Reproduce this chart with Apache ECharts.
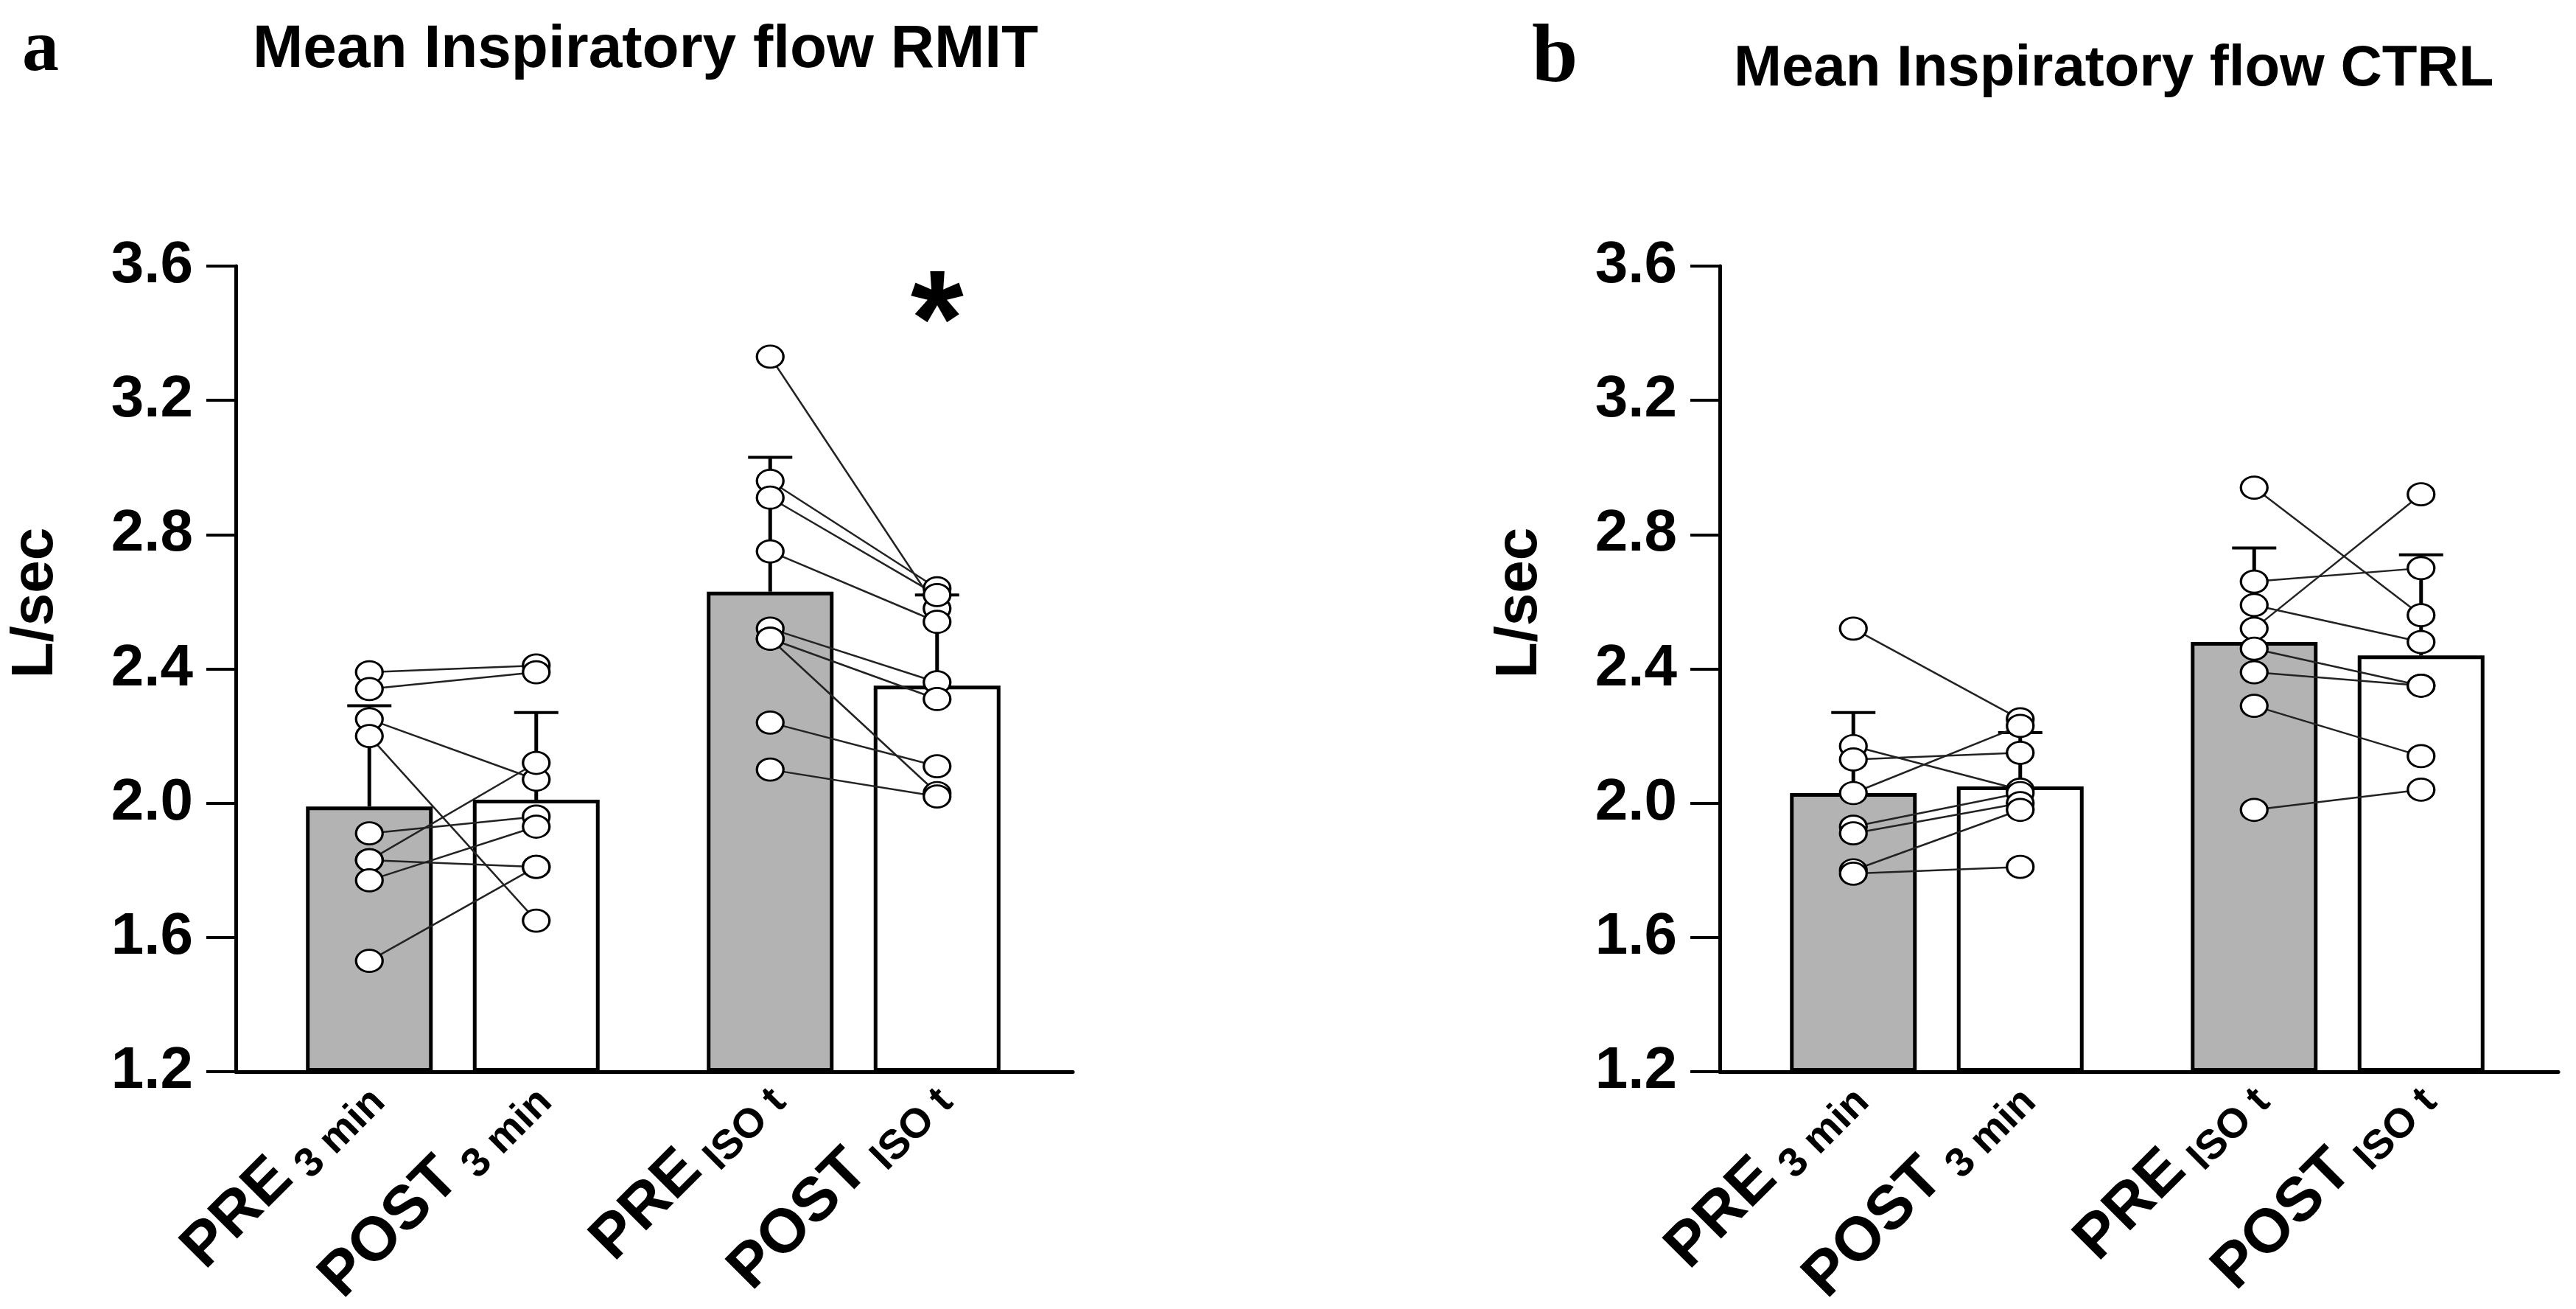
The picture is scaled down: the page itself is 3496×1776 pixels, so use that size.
<!DOCTYPE html>
<html>
<head>
<meta charset="utf-8">
<script src="https://cdn.jsdelivr.net/npm/echarts@6/dist/echarts.min.js"></script>
<style>html,body{margin:0;padding:0;background:#fff}#c{width:3496px;height:1776px}</style>
</head>
<body>
<div id="c"></div>
<script>
// ---------------- data ----------------
const categories = ['PRE', 'POST'];
const groupNames = ['3 min', 'ISO t'];
const panelTitles = ['Mean Inspiratory flow RMIT', 'Mean Inspiratory flow CTRL'];
const panelLetters = ['a', 'b'];
const yMin = 1.2, yMax = 3.6, yInterval = 0.4;

// RMIT, 3 min
const rmit3Mean = [1.99, 2.01];
const rmit3SD   = [0.30, 0.26];
const rmit3Pre  = [2.39, 2.34, 2.25, 2.20, 1.91, 1.83, 1.83, 1.77, 1.53];
const rmit3Post = [2.41, 2.39, 2.07, 1.65, 1.96, 2.12, 1.81, 1.93, 1.81];
// RMIT, ISO t
const rmitIsoMean = [2.63, 2.35];
const rmitIsoSD   = [0.40, 0.27];
const rmitIsoPre  = [3.33, 2.96, 2.91, 2.75, 2.52, 2.49, 2.49, 2.24, 2.10];
const rmitIsoPost = [2.58, 2.64, 2.62, 2.54, 2.36, 2.31, 2.03, 2.11, 2.02];
// CTRL, 3 min
const ctrl3Mean = [2.03, 2.05];
const ctrl3SD   = [0.24, 0.16];
const ctrl3Pre  = [2.52, 2.17, 2.13, 2.03, 1.93, 1.91, 1.80, 1.79];
const ctrl3Post = [2.25, 2.04, 2.15, 2.23, 2.03, 2.00, 1.98, 1.81];
// CTRL, ISO t
const ctrlIsoMean = [2.48, 2.44];
const ctrlIsoSD   = [0.28, 0.30];
const ctrlIsoPre  = [2.94, 2.66, 2.59, 2.52, 2.46, 2.39, 2.29, 1.98];
const ctrlIsoPost = [2.56, 2.70, 2.48, 2.92, 2.35, 2.35, 2.14, 2.04];

// significance marker over the POST bar: [panel][group]
const significance = [['', '*'], ['', '']];

// ---------------- layout/style ----------------
const FONT = 'Liberation Sans, Arial, sans-serif';
const SERIF = 'Liberation Serif, Times New Roman, serif';
const barColors = ['#b3b3b3', '#ffffff'];
const panelX0 = [320, 2334];
const panelXEnd = [1456, 3472];
const plotTop = 361, plotHeight = 1093;
const groupOffsets = [68, 612];
const groupWidth = 453;
const letterPos = [{ x: 30, y: 69, size: 100 }, { x: 2079, y: 81, size: 112 }];
const titlePos = [{ x: 343, y: 68, size: 82 }, { x: 2353, y: 94, size: 78 }];

const panels = [
  { letter: panelLetters[0], title: panelTitles[0], groups: [
    { mean: rmit3Mean, sd: rmit3SD, pre: rmit3Pre, post: rmit3Post },
    { mean: rmitIsoMean, sd: rmitIsoSD, pre: rmitIsoPre, post: rmitIsoPost } ] },
  { letter: panelLetters[1], title: panelTitles[1], groups: [
    { mean: ctrl3Mean, sd: ctrl3SD, pre: ctrl3Pre, post: ctrl3Post },
    { mean: ctrlIsoMean, sd: ctrlIsoSD, pre: ctrlIsoPre, post: ctrlIsoPost } ] }
];

const grid = [], xAxis = [], yAxis = [], series = [], graphic = [];

function errorRender(params, api) {
  const x = api.value(0), m = api.value(1), s = api.value(2);
  const p0 = api.coord([x, m]);
  const p1 = api.coord([x, m + s]);
  const hw = 30;
  return { type: 'group', children: [
    { type: 'line', shape: { x1: p0[0], y1: p0[1], x2: p1[0], y2: p1[1] }, style: { stroke: '#000', lineWidth: 5 } },
    { type: 'line', shape: { x1: p1[0] - hw, y1: p1[1], x2: p1[0] + hw, y2: p1[1] }, style: { stroke: '#000', lineWidth: 4 } }
  ]};
}

panels.forEach((panel, p) => {
  const x0 = panelX0[p];
  const bg = grid.length;
  grid.push({ left: x0, top: plotTop, width: panelXEnd[p] - x0, height: plotHeight,
    containLabel: false, outerBoundsMode: 'none' });
  xAxis.push({ gridIndex: bg, type: 'value', min: 0, max: 1,
    axisLine: { show: true, onZero: false, lineStyle: { color: '#000', width: 5 } },
    axisTick: { show: false }, axisLabel: { show: false }, splitLine: { show: false } });
  yAxis.push({ gridIndex: bg, type: 'value', min: yMin, max: yMax, interval: yInterval,
    axisLine: { show: true, onZero: false, lineStyle: { color: '#000', width: 5 } },
    axisTick: { show: true, length: 40, lineStyle: { color: '#000', width: 4 } },
    axisLabel: { show: true, margin: 58, color: '#000', fontSize: 80, fontWeight: 'bold', fontFamily: FONT,
      formatter: v => v.toFixed(1) },
    splitLine: { show: false } });

  panel.groups.forEach((g, gi) => {
    const gIdx = grid.length;
    grid.push({ left: x0 + groupOffsets[gi], top: plotTop, width: groupWidth, height: plotHeight,
      containLabel: false, outerBoundsMode: 'none' });
    const gname = groupNames[gi];
    xAxis.push({ gridIndex: gIdx, type: 'category', data: categories,
      axisLine: { show: false }, axisTick: { show: false }, splitLine: { show: false },
      axisLabel: { show: true, interval: 0, rotate: 45, margin: 20, color: '#000',
        formatter: v => '{a|' + v + '}{b| ' + gname + '}',
        rich: {
          a: { fontSize: 84, fontWeight: 'bold', fontFamily: FONT, color: '#000', verticalAlign: 'top', padding: [0, 0, 8, 0] },
          b: { fontSize: 56, fontWeight: 'bold', fontFamily: FONT, color: '#000', verticalAlign: 'bottom' }
        } } });
    yAxis.push({ gridIndex: gIdx, type: 'value', min: yMin, max: yMax, interval: yInterval, startValue: yMin, show: false });

    series.push({ type: 'bar', xAxisIndex: gIdx, yAxisIndex: gIdx, barWidth: 172, z: 2,
      clip: true, silent: true,
      data: g.mean.map((v, i) => ({ value: v, itemStyle: { color: barColors[i], borderColor: '#000', borderWidth: 5 } })) });
    series.push({ type: 'custom', xAxisIndex: gIdx, yAxisIndex: gIdx, z: 3, silent: true,
      renderItem: errorRender, data: g.mean.map((v, i) => [i, v, g.sd[i]]) });
    g.pre.forEach((v, i) => {
      series.push({ type: 'line', xAxisIndex: gIdx, yAxisIndex: gIdx, z: 4, silent: true,
        symbol: 'none', lineStyle: { color: '#222', width: 2.5 },
        data: [[categories[0], v], [categories[1], g.post[i]]] });
    });
    series.push({ type: 'scatter', xAxisIndex: gIdx, yAxisIndex: gIdx, z: 5, silent: true,
      symbol: 'circle', symbolSize: [36, 30],
      itemStyle: { color: '#fff', borderColor: '#000', borderWidth: 3, opacity: 1 },
      data: g.pre.map(v => [categories[0], v]).concat(g.post.map(v => [categories[1], v])) });

    if (significance[p][gi]) {
      series.push({ type: 'scatter', xAxisIndex: gIdx, yAxisIndex: gIdx, z: 6, silent: true,
        symbolSize: 0, data: [],
        markPoint: { symbol: 'circle', symbolSize: 1, itemStyle: { color: 'transparent' },
          label: { show: true, position: 'inside', formatter: significance[p][gi], color: '#000',
            fontSize: 185, fontWeight: 'bold', fontFamily: FONT, offset: [0, 43] },
          data: [{ coord: [categories[1], 3.51] }] } });
    }
  });

  const lp = letterPos[p], tp = titlePos[p];
  graphic.push({ type: 'text', x: lp.x, y: lp.y, style: { text: panel.letter, font: 'bold ' + lp.size + 'px ' + SERIF,
    fill: '#000', textAlign: 'left', textVerticalAlign: 'middle' } });
  graphic.push({ type: 'text', x: tp.x, y: tp.y,
    style: { text: panel.title, font: 'bold ' + tp.size + 'px ' + FONT, fill: '#000', textAlign: 'left', textVerticalAlign: 'middle' } });
  graphic.push({ type: 'text', x: x0 - 271, y: 818, rotation: Math.PI / 2,
    style: { text: 'L/sec', font: 'bold 80px ' + FONT, fill: '#000', textAlign: 'center', textVerticalAlign: 'middle' } });
});

const chart = echarts.init(document.getElementById('c'), null, { renderer: 'canvas', width: 3496, height: 1776 });
chart.setOption({ animation: false, backgroundColor: '#fff', grid, xAxis, yAxis, series, graphic });
</script>
</body>
</html>
